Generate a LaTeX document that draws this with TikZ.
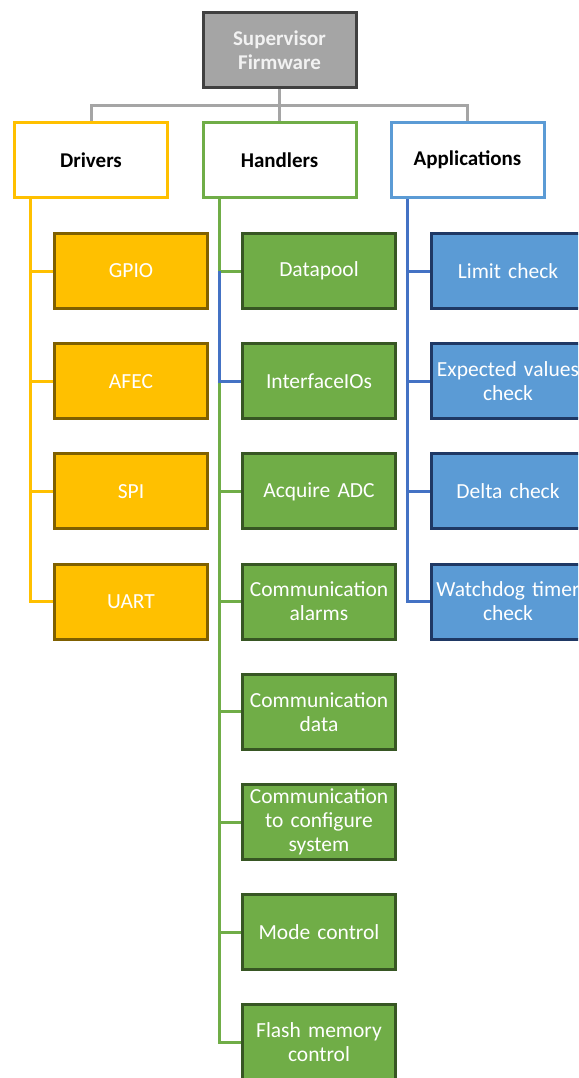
\documentclass[tikz,border=0pt]{standalone}
\usepackage{fontspec}
\setmainfont{Carlito}
\definecolor{yfill}{HTML}{FFC000}
\definecolor{ydark}{HTML}{7F6000}
\definecolor{gfill}{HTML}{70AD47}
\definecolor{gdark}{HTML}{375623}
\definecolor{bfill}{HTML}{5B9BD5}
\definecolor{bdark}{HTML}{1F3864}
\definecolor{bline}{HTML}{4472C4}
\definecolor{sfill}{HTML}{A5A5A5}
\definecolor{sdark}{HTML}{404040}
\tikzset{
  box/.style={rectangle, minimum width=153pt, minimum height=75pt, line width=3pt,
    align=center, font=\fontsize{21.5}{24}\selectfont, inner sep=0pt, text width=150pt},
  topbox/.style={box, fill=sfill, draw=sdark, text=white!95!black, font=\fontsize{21}{24}\selectfont\bfseries},
  head/.style={box, fill=white, text=black, font=\fontsize{21}{24}\selectfont\bfseries},
  ybox/.style={box, fill=yfill, draw=ydark, text=white},
  gbox/.style={box, fill=gfill, draw=gdark, text=white},
  bbox/.style={box, fill=bfill, draw=bdark, text=white},
  conn/.style={line width=3pt},
}
\begin{document}
\begin{tikzpicture}[x=1pt,y=-1pt]
\useasboundingbox (0,0) rectangle (578,1078);
\clip (0,0) rectangle (578,1078);
% top
\node[topbox] (sup) at (279.5,50) {Supervisor\\Firmware};
\node[head, draw=yfill] (drv) at (91,160) {Drivers};
\node[head, draw=gfill] (hnd) at (279.5,160) {Handlers};
\node[head, draw=bfill] (app) at (467.5,160) {Applications};
\coordinate (bus) at (0,106);
\draw[conn, sfill] (sup.south) -- (sup.south |- bus) -| (drv.north);
\draw[conn, sfill] (sup.south |- bus) -- (hnd.north);
\draw[conn, sfill] (sup.south |- bus) -| (app.north);
% drivers
\node[ybox] (gpio) at (131,271) {GPIO};
\node[ybox] (afec) at (131,381.2) {AFEC};
\node[ybox] (spi) at (131,491.4) {SPI};
\node[ybox] (uart) at (131,601.6) {UART};
\coordinate (dt) at (30,199);
\foreach \n in {gpio,afec,spi,uart}{
  \draw[conn, yfill] (dt) |- (\n.west);
}
% handlers
\node[gbox] (dp) at (319,271) {Datapool};
\node[gbox] (ifio) at (319,381.2) {InterfaceIOs};
\node[gbox] (adc) at (319,491.4) {Acquire ADC};
\node[gbox] (cal) at (319,601.6) {Communication\\alarms};
\node[gbox] (cdat) at (319,711.8) {Communication\\data};
\node[gbox] (ccfg) at (319,822) {Communication\\to configure\\system};
\node[gbox] (mode) at (319,932.2) {Mode control};
\node[gbox] (flash) at (319,1042.4) {Flash memory\\control};
\coordinate (ht) at (219,199);
\foreach \n in {dp,adc,cal,cdat,ccfg,mode,flash}{
  \draw[conn, gfill] (ht) |- (\n.west);
}
\draw[conn, bline] (ht |- dp.west) |- (ifio.west);
% applications
\node[bbox] (lim) at (508,271) {Limit check};
\node[bbox] (exp) at (508,381.2) {Expected values\\check};
\node[bbox] (del) at (508,491.4) {Delta check};
\node[bbox] (wdt) at (508,601.6) {Watchdog timer\\check};
\coordinate (at) at (407,199);
\foreach \n in {lim,exp,del,wdt}{
  \draw[conn, bline] (at) |- (\n.west);
}
\end{tikzpicture}
\end{document}
